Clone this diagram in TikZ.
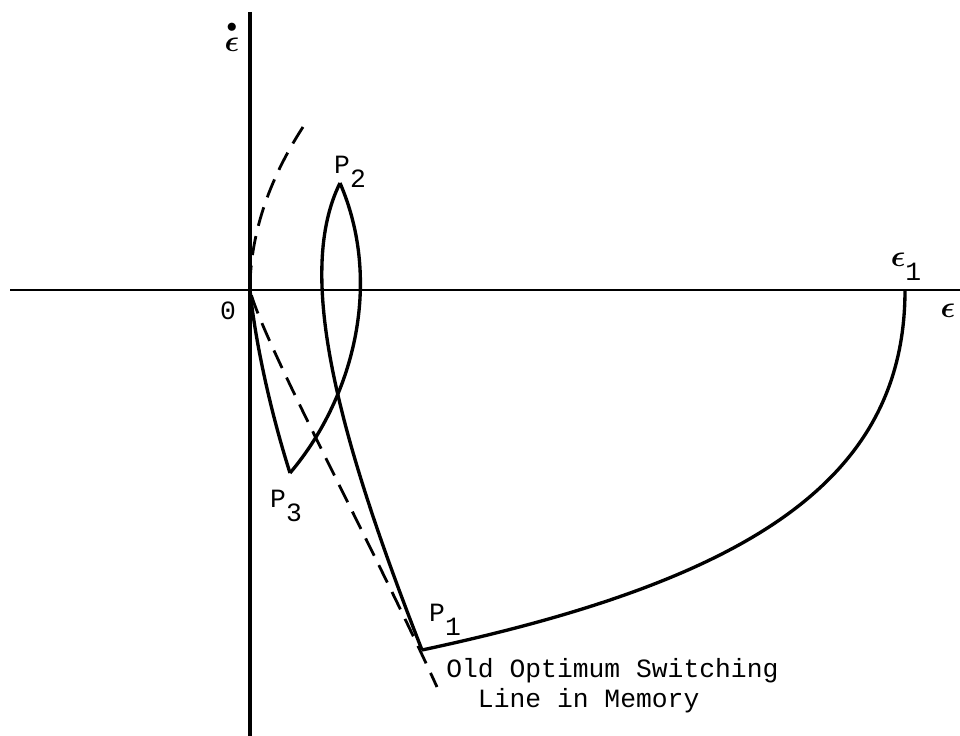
\documentclass[tikz,border=0pt]{standalone}
\usepackage{amsmath}
\usepackage{fontspec}
\setmonofont{Liberation Mono}
\usepackage{tikz}
\usetikzlibrary{positioning}
\newcommand{\lowr}[1]{\raisebox{-0.55em}{#1}}
\newcommand{\epsb}{{\fontsize{18}{18}\selectfont$\boldsymbol{\epsilon}$}}
\tikzset{
  axisline/.style={line width=1.4pt, draw=black},
  traj/.style={line width=1.9pt, draw=black, line join=round},
  switchline/.style={line width=1.6pt, draw=black, dash pattern=on 11pt off 6pt},
  lbl/.style={font=\ttfamily\fontsize{15}{17}\selectfont, inner sep=0pt}
}
\begin{document}
\begin{tikzpicture}[x=0.02cm, y=-0.02cm]
        \useasboundingbox (0,0) rectangle (960,736);
        % axes
        \coordinate (xl) at (10,290);
        \coordinate (xr) at (960,290);
        \coordinate (yt) at (250,12);
        \coordinate (yb) at (250,736);
        \coordinate (O) at (250,290);
        \draw[axisline] (xl) -- (xr);
        \draw[axisline, line width=2.2pt] (yt) -- (yb);
        % switching points
        \coordinate (e1) at (905,290);
        \coordinate (P1) at (422,650);
        \coordinate (P2) at (340,183);
        \coordinate (P3) at (290,473);
        \coordinate (swtop) at (303,127);
        \coordinate (swbot) at (437,687);
        % old switching line
        \draw[switchline] (swtop) .. controls (268,181) and (250,236) .. (O)
              .. controls (262,340) and (370,540) .. (swbot);
        % trajectory
        \draw[traj] (e1) .. controls (905,480) and (750,580) .. (P1);
        \draw[traj] (P1) .. controls (335,428) and (296,272) .. (P2);
        \draw[traj] (P2) .. controls (384,285) and (352,400) .. (P3);
        \draw[traj] (P3) .. controls (270,410) and (255,340) .. (O);
        % labels
        \node[lbl] (edot) at (232,36)
          {{\fontsize{18}{18}\selectfont$\overset{\bullet}{\boldsymbol{\epsilon}}$}};
        \node[lbl] (zero) at (228,311) {0};
        \node[lbl] (eps) at (948,311) {\epsb};
        \node[lbl] (le1) at (906,267) {\epsb\lowr{1}};
        \node[lbl] (lP2) at (350,172) {P\lowr{2}};
        \node[lbl] (lP3) at (286,506) {P\lowr{3}};
        \node[lbl] (lP1) at (445,620) {P\lowr{1}};
        \node[lbl, align=left, anchor=north west] (memo) at (446,658)
          {Old Optimum Switching\\\hphantom{Ol}Line in Memory};
    \end{tikzpicture}
\end{document}
